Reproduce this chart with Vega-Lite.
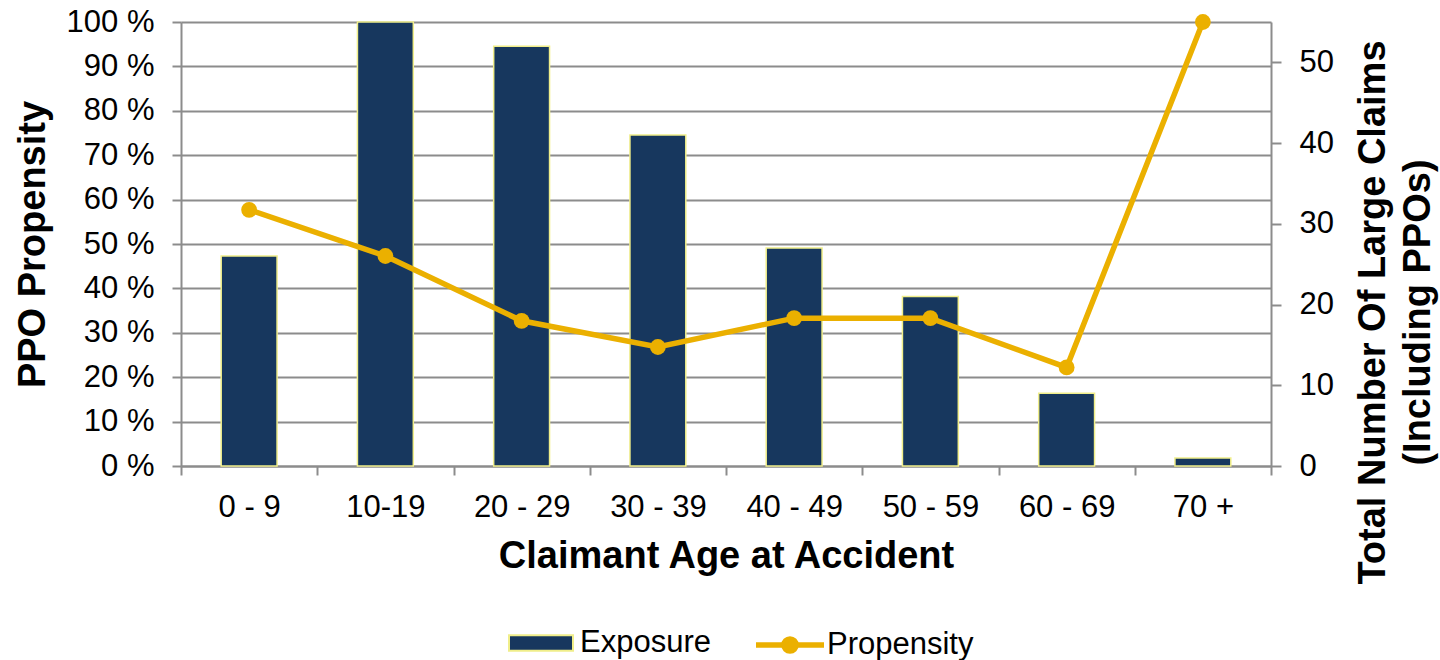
{
  "$schema": "https://vega.github.io/schema/vega-lite/v6.json",
  "width": 1090,
  "height": 444,
  "autosize": "none",
  "padding": {"left": 181, "top": 22, "right": 169, "bottom": 194},
  "background": "white",
  "config": {
    "font": "Liberation Sans",
    "view": {"stroke": null},
    "axis": {
      "domainColor": "#8C8C8C",
      "tickColor": "#8C8C8C",
      "gridColor": "#8C8C8C",
      "domainWidth": 2,
      "tickWidth": 2,
      "gridWidth": 2,
      "labelColor": "black",
      "titleColor": "black",
      "labelFont": "Liberation Sans",
      "titleFont": "Liberation Sans",
      "labelFontSize": 31,
      "titleFontSize": 38,
      "titleFontWeight": "bold"
    },
    "legend": {
      "labelFont": "Liberation Sans",
      "labelFontSize": 31,
      "labelColor": "black"
    }
  },
  "data": {
    "values": [
      {"age": "0 - 9", "claims": 26, "propensity": 0.577},
      {"age": "10-19", "claims": 55, "propensity": 0.473},
      {"age": "20 - 29", "claims": 52, "propensity": 0.327},
      {"age": "30 - 39", "claims": 41, "propensity": 0.268},
      {"age": "40 - 49", "claims": 27, "propensity": 0.333},
      {"age": "50 - 59", "claims": 21, "propensity": 0.333},
      {"age": "60 - 69", "claims": 9, "propensity": 0.222},
      {"age": "70 +", "claims": 1, "propensity": 1.0}
    ]
  },
  "encoding": {
    "x": {
      "field": "age",
      "type": "ordinal",
      "sort": null,
      "scale": {"paddingInner": 0, "paddingOuter": 0},
      "axis": {
        "title": "Claimant Age at Accident",
        "labelAngle": 0,
        "tickBand": "extent",
        "tickSize": 9,
        "labelPadding": 17,
        "titlePadding": 15,
        "grid": false
      }
    }
  },
  "layer": [
    {
      "mark": {"type": "bar", "width": {"band": 0.41}, "stroke": "#F0EE8A", "strokeWidth": 1.5},
      "encoding": {
        "y": {
          "field": "claims",
          "type": "quantitative",
          "scale": {"domain": [0, 55], "nice": false},
          "axis": {
            "orient": "right",
            "title": ["Total Number Of Large Claims", "\u00a0\u00a0\u00a0\u00a0\u00a0\u00a0\u00a0\u00a0\u00a0\u00a0(Including PPOs)"],
            "titleAngle": 270,
            "titleBaseline": "top",
            "titleAlign": "center",
            "titleLineHeight": 45,
            "titleX": 83,
            "titleY": 290,
            "values": [0, 10, 20, 30, 40, 50],
            "grid": false,
            "tickSize": 10,
            "labelPadding": 18
          }
        },
        "fill": {
          "datum": "Exposure",
          "type": "nominal",
          "scale": {"range": ["#17375E"]},
          "legend": {
            "title": null,
            "orient": "none",
            "legendX": 327,
            "legendY": 588,
            "padding": 0,
            "symbolType": "M-1,-0.24H1V0.24H-1Z",
            "symbolSize": 4096,
            "symbolStrokeColor": "#F0EE8A",
            "symbolStrokeWidth": 2,
            "labelOffset": 6
          }
        }
      }
    },
    {
      "encoding": {
        "y": {
          "field": "propensity",
          "type": "quantitative",
          "scale": {"domain": [0, 1], "nice": false},
          "axis": {
            "orient": "left",
            "title": "PPO Propensity",
            "values": [0, 0.1, 0.2, 0.3, 0.4, 0.5, 0.6, 0.7, 0.8, 0.9, 1.0],
            "labelExpr": "round(datum.value * 100) + ' %'",
            "grid": true,
            "tickSize": 9,
            "labelPadding": 18,
            "titlePadding": 14
          }
        }
      },
      "layer": [
        {
          "mark": {"type": "line", "strokeWidth": 5.5},
          "encoding": {
            "stroke": {
              "datum": "Propensity",
              "type": "nominal",
              "scale": {"range": ["#EBB000"]},
              "legend": {
                "title": null,
                "orient": "none",
                "legendX": 572,
                "legendY": 586,
                "padding": 0,
                "symbolType": "M-1,0H1M0.18,0A0.18,0.18 0 1,1 -0.18,0A0.18,0.18 0 1,1 0.18,0Z",
                "symbolSize": 4624,
                "symbolStrokeWidth": 5.5,
                "symbolFillColor": "#EBB000",
                "labelOffset": 0
              }
            }
          }
        },
        {
          "mark": {"type": "point", "filled": true, "size": 250, "color": "#EBB000", "opacity": 1}
        }
      ]
    }
  ],
  "resolve": {"scale": {"y": "independent"}}
}
